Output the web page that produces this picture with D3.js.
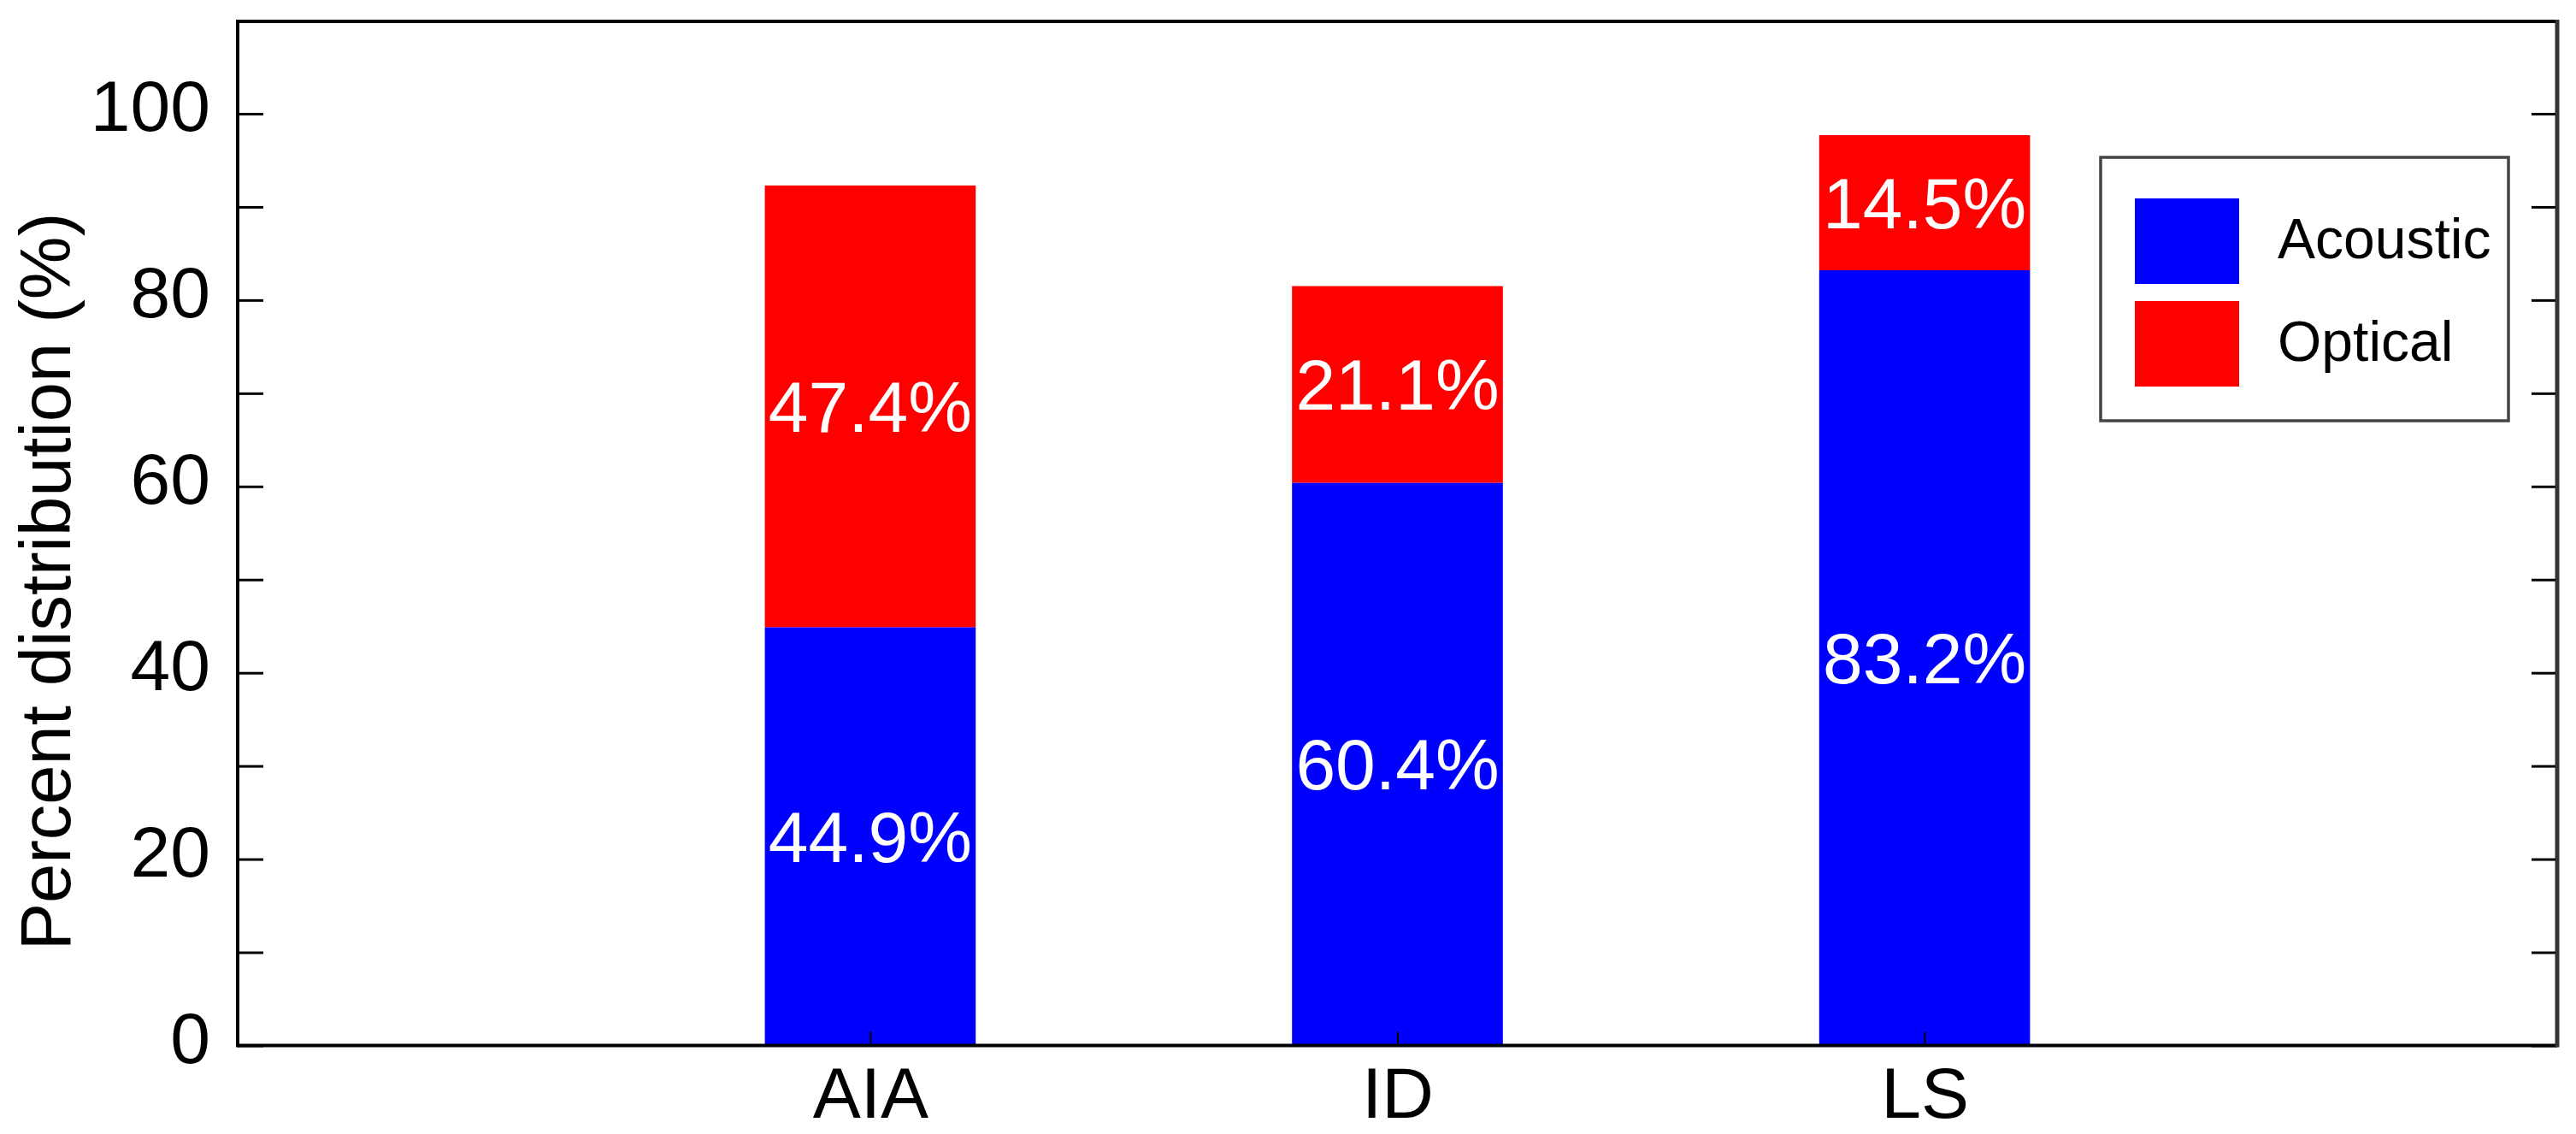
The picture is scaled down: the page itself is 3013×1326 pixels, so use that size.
<!DOCTYPE html>
<html>
<head>
<meta charset="utf-8">
<script src="https://cdn.jsdelivr.net/npm/d3@7/dist/d3.min.js"></script>
<style>
  html, body { margin: 0; padding: 0; background: #fff; }
  svg { display: block; font-family: "Liberation Sans", Arial, sans-serif; }
</style>
</head>
<body>
<svg id="chart" width="3013" height="1326"></svg>
<script>
// ---- data ----
const categories = ["AIA", "ID", "LS"];
const seriesNames = ["Acoustic", "Optical"];
const acoustic = [44.9, 60.4, 83.2];
const optical = [47.4, 21.1, 14.5];
const yTickValues = [0, 10, 20, 30, 40, 50, 60, 70, 80, 90, 100, 110];
const yTickLabels = ["0", "", "20", "", "40", "", "60", "", "80", "", "100", ""];
const colors = ["#0000ff", "#ff0000"];

(function () {
  // ---- layout ----
  const pL = 278, pR = 2991, pT = 24, pB = 1222.5;
  const FS = 84;

  const svg = d3.select("#chart");

  const x = d3.scalePoint().domain(categories).range([pL, pR]).padding(1.2);
  const y = d3.scaleLinear().domain([0, 110]).range([pB, pT]);
  const barW = x.step() * 0.4;

  const rows = categories.map((c, i) => ({ cat: c, Acoustic: acoustic[i], Optical: optical[i] }));
  const stack = d3.stack().keys(seriesNames)(rows);

  // bars
  const layers = svg.append("g").selectAll("g").data(stack).join("g")
    .attr("fill", (d, i) => colors[i]);
  layers.selectAll("rect").data(d => d).join("rect")
    .attr("x", d => x(d.data.cat) - barW / 2)
    .attr("width", barW)
    .attr("y", d => y(d[1]))
    .attr("height", d => y(d[0]) - y(d[1]));

  // value labels
  layers.selectAll("text").data(d => d).join("text")
    .attr("x", d => x(d.data.cat))
    .attr("y", d => y((d[0] + d[1]) / 2) + 30)
    .attr("text-anchor", "middle")
    .attr("fill", "#fff")
    .attr("font-size", FS)
    .text(d => (d[1] - d[0]).toFixed(1) + "%");

  // left axis
  const yAxisL = svg.append("g").attr("transform", `translate(${pL},0)`)
    .call(d3.axisLeft(y).tickValues(yTickValues).tickSize(-30).tickPadding(32)
      .tickFormat((d, i) => yTickLabels[i]));
  yAxisL.select(".domain").remove();
  yAxisL.selectAll(".tick line").attr("stroke", "#000").attr("stroke-width", 3);
  yAxisL.selectAll(".tick text").attr("font-size", FS).attr("fill", "#000")
    .attr("dy", null).attr("y", 20).attr("font-family", "Liberation Sans, Arial, sans-serif");

  // right axis
  const yAxisR = svg.append("g").attr("transform", `translate(${pR},0)`)
    .call(d3.axisRight(y).tickValues(yTickValues).tickSize(-30).tickFormat(""));
  yAxisR.select(".domain").remove();
  yAxisR.selectAll(".tick line").attr("stroke", "#000").attr("stroke-width", 3);

  // bottom axis
  const xAxis = svg.append("g").attr("transform", `translate(0,${pB})`)
    .call(d3.axisBottom(x).tickSize(-16).tickPadding(26));
  xAxis.select(".domain").remove();
  xAxis.selectAll(".tick line").attr("stroke", "#000").attr("stroke-width", 2);
  xAxis.selectAll(".tick text").attr("font-size", FS).attr("fill", "#000")
    .attr("dy", null).attr("y", 84)
    .attr("font-family", "Liberation Sans, Arial, sans-serif");

  // frame
  const frame = svg.append("g").attr("fill", "none");
  frame.append("line").attr("x1", pL).attr("x2", pR).attr("y1", pT + 1).attr("y2", pT + 1)
    .attr("stroke", "#000").attr("stroke-width", 4);
  frame.append("line").attr("x1", pL).attr("x2", pR).attr("y1", pB).attr("y2", pB)
    .attr("stroke", "#000").attr("stroke-width", 4);
  frame.append("line").attr("x1", pL).attr("x2", pL).attr("y1", pT - 1).attr("y2", pB + 2)
    .attr("stroke", "#000").attr("stroke-width", 4);
  frame.append("line").attr("x1", pR).attr("x2", pR).attr("y1", pT - 1).attr("y2", pB + 2)
    .attr("stroke", "#333").attr("stroke-width", 5);

  // y label
  svg.append("text")
    .attr("transform", `translate(82,680) rotate(-90)`)
    .attr("text-anchor", "middle")
    .attr("font-size", 83)
    .attr("fill", "#000")
    .text("Percent distribution (%)");

  // legend
  const lg = svg.append("g");
  lg.append("rect").attr("x", 2457).attr("y", 184).attr("width", 477).attr("height", 308)
    .attr("fill", "#fff").attr("stroke", "#444").attr("stroke-width", 3.5);
  const items = lg.selectAll("g.item").data(seriesNames).join("g").attr("class", "item")
    .attr("transform", (d, i) => `translate(0,${i * 120})`);
  items.append("rect").attr("x", 2497).attr("y", 232).attr("width", 122).attr("height", 100)
    .attr("fill", (d, i) => colors[i]);
  items.append("text").attr("x", 2664).attr("y", 302).attr("font-size", 66).attr("fill", "#000")
    .text(d => d);
})();
</script>
</body>
</html>
